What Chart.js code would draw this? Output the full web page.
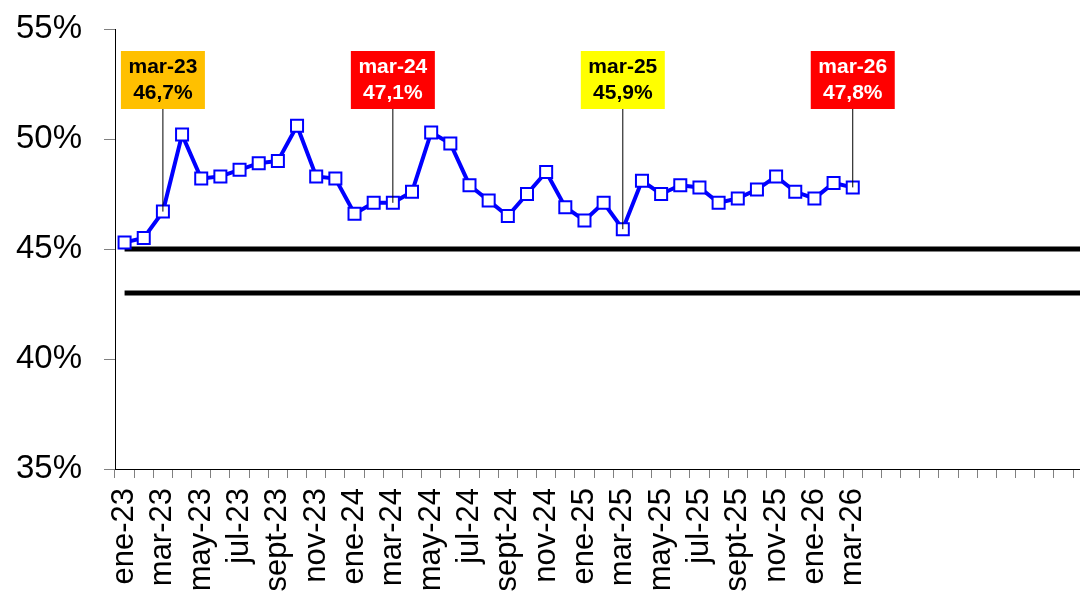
<!DOCTYPE html>
<html>
<head>
<meta charset="utf-8">
<script src="https://cdn.jsdelivr.net/npm/chart.js@4/dist/chart.umd.min.js"></script>
<style>
  html, body { margin: 0; padding: 0; background: #fff; overflow: hidden; width: 1080px; height: 592px; }
  #wrap { position: absolute; left: 0; top: 0; width: 1130px; height: 660px; }
</style>
</head>
<body>
<div id="wrap"><canvas id="chart" width="1130" height="660"></canvas></div>
<script>
// Months shown on the axis (Spanish short names)
var months = ['ene', 'feb', 'mar', 'abr', 'may', 'jun', 'jul', 'ago', 'sept', 'oct', 'nov', 'dic'];
var years = ['23', '24', '25', '26', '27'];

// Monthly ratio, ene-23 .. mar-26
var ratio = [
    45.3, 45.5, 46.7, 50.2, 48.2, 48.3, 48.6, 48.9, 49.0, 50.6, 48.3, 48.2,
    46.6, 47.1, 47.1, 47.6, 50.3, 49.8, 47.9, 47.2, 46.5, 47.5, 48.5, 46.9,
    46.3, 47.1, 45.9, 48.1, 47.5, 47.9, 47.8, 47.1, 47.3, 47.7, 48.3, 47.6,
    47.3, 48.0, 47.8
];

// Reference lines
var upperLine = 45;
var lowerLine = 43;

// Number of category slots on the axis (includes empty future months)
var slotCount = 51;

// Callouts: category index and colours
var callouts = [
    { idx: 2,  bg: '#FFC000', fg: '#000000' },
    { idx: 14, bg: '#FF0000', fg: '#FFFFFF' },
    { idx: 26, bg: '#FFFF00', fg: '#000000' },
    { idx: 38, bg: '#FF0000', fg: '#FFFFFF' }
];

var labels = [];
for (var i = 0; i < slotCount; i++) {
    labels.push(months[i % 12] + '-' + years[Math.floor(i / 12)]);
}

var upperData = labels.map(function() { return upperLine; });
var lowerData = labels.map(function() { return lowerLine; });

var fontFamily = '"Liberation Sans", Arial, sans-serif';
var canvasH = 660;

// Draws the labelled boxes with a leader line down to the point
var calloutPlugin = {
    id: 'callouts',
    afterDatasetsDraw: function(chart) {
        var ctx = chart.ctx;
        var xs = chart.scales.x, ys = chart.scales.y;
        callouts.forEach(function(c) {
            var x = xs.getPixelForValue(c.idx);
            var y = ys.getPixelForValue(ratio[c.idx]);
            var boxW = 84, boxH = 58, boxTop = 51;
            ctx.save();
            ctx.strokeStyle = '#000';
            ctx.lineWidth = 1;
            ctx.beginPath();
            ctx.moveTo(x, boxTop + boxH);
            ctx.lineTo(x, y);
            ctx.stroke();
            ctx.fillStyle = c.bg;
            ctx.fillRect(x - boxW / 2, boxTop, boxW, boxH);
            ctx.fillStyle = c.fg;
            ctx.font = 'bold 21px ' + fontFamily;
            ctx.textAlign = 'center';
            ctx.textBaseline = 'middle';
            ctx.fillText(labels[c.idx], x, boxTop + 16);
            ctx.fillText(ratio[c.idx].toFixed(1).replace('.', ',') + '%', x, boxTop + 42);
            ctx.restore();
        });
    }
};

new Chart(document.getElementById('chart').getContext('2d'), {
    type: 'line',
    data: {
        labels: labels,
        datasets: [{
            data: ratio,
            borderColor: '#0000FF',
            borderWidth: 4,
            pointStyle: 'rect',
            pointRadius: 8.5,
            pointBorderWidth: 2,
            pointBorderColor: '#0000FF',
            pointBackgroundColor: '#FFFFFF',
            tension: 0,
            order: 0
        }, {
            data: upperData,
            borderColor: '#000000',
            borderWidth: 5,
            pointRadius: 0,
            order: 1
        }, {
            data: lowerData,
            borderColor: '#000000',
            borderWidth: 5,
            pointRadius: 0,
            order: 1
        }]
    },
    options: {
        responsive: false,
        animation: false,
        layout: { padding: { top: 29, right: 0, left: 0, bottom: 0 } },
        plugins: { legend: { display: false }, tooltip: { enabled: false } },
        scales: {
            x: {
                offset: true,
                grid: { display: true, drawOnChartArea: false, offset: true, tickLength: 9, color: '#808080' },
                border: { color: '#000000', width: 1 },
                ticks: {
                    autoSkip: false,
                    minRotation: 90,
                    maxRotation: 90,
                    padding: 10,
                    color: '#000000',
                    font: { family: fontFamily, size: 31 },
                    callback: function(v, i) {
                        return (i < ratio.length && i % 2 === 0) ? labels[i] : '';
                    }
                },
                afterFit: function(s) { s.height = canvasH - 469; }
            },
            y: {
                min: 35,
                max: 55,
                grid: { display: true, drawOnChartArea: false, tickLength: 11, color: '#808080' },
                border: { color: '#000000', width: 1 },
                ticks: {
                    stepSize: 5,
                    padding: 22,
                    color: '#000000',
                    font: { family: fontFamily, size: 33 },
                    callback: function(v) { return v + '%'; }
                },
                afterFit: function(s) { s.width = 115; s.paddingTop = 0; s.paddingBottom = 0; }
            }
        }
    },
    plugins: [calloutPlugin]
});
</script>
</body>
</html>
